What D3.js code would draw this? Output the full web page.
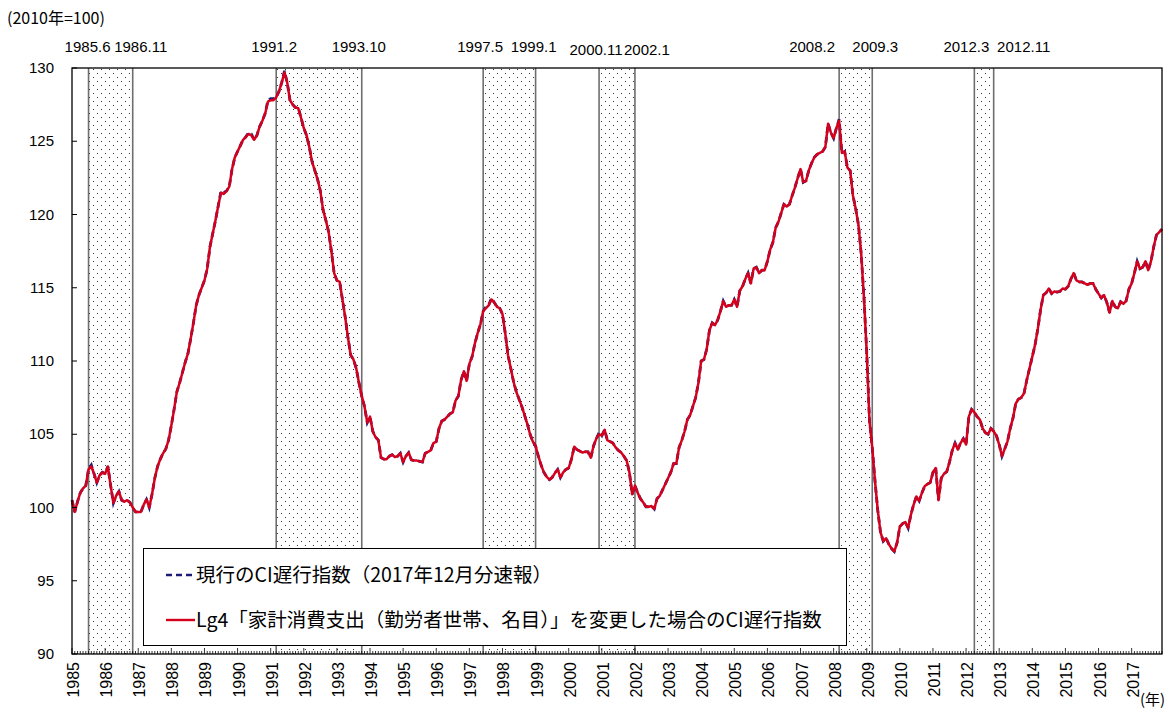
<!DOCTYPE html>
<html>
<head>
<meta charset="utf-8">
<script src="https://cdn.jsdelivr.net/npm/d3@7/dist/d3.min.js"></script>
<style>
body { margin: 0; background: #fff; }
svg text { font-family: "Liberation Sans", Arial, sans-serif; fill: #000; }
svg text.jp { font-family: "Noto Sans CJK JP", "Noto Sans", sans-serif; }
</style>
</head>
<body>
<svg id="chart" width="1170" height="708"></svg>
<script>
// data: monthly lagging CI, Jan 1985 - Dec 2017 (2010=100)
var startYear = 1985;
var yearLabels = d3.range(1985, 2018);
var yTicks = [90, 95, 100, 105, 110, 115, 120, 125, 130];
var peaks = ["1985.6", "1991.2", "1997.5", "2000.11", "2008.2", "2012.3"];
var troughs = ["1986.11", "1993.10", "1999.1", "2002.1", "2009.3", "2012.11"];

// Lg4 changed version (red)
var lagCIrevised = [
  100.5, 99.7, 100.4, 101.0, 101.3, 101.5, 102.6, 102.8, 102.3, 101.7, 102.2, 102.4, // 1985
  102.3, 102.8, 101.5, 100.3, 100.8, 101.1, 100.5, 100.4, 100.5, 100.35, 100.0, 99.7, // 1986
  99.7, 99.7, 100.2, 100.55, 100.0, 100.9, 102.0, 102.8, 103.3, 103.7, 104.0, 104.6, // 1987
  105.6, 106.7, 107.9, 108.5, 109.2, 109.9, 110.5, 111.5, 112.6, 113.8, 114.5, 115.0, // 1988
  115.5, 116.3, 117.8, 118.7, 119.6, 120.6, 121.5, 121.4, 121.6, 121.9, 123.1, 123.9, // 1989
  124.3, 124.7, 125.1, 125.3, 125.5, 125.4, 125.1, 125.4, 126.0, 126.4, 126.9, 127.7, // 1990
  127.8, 127.8, 128.0, 128.4, 129.0, 129.7, 129.0, 127.8, 127.5, 127.3, 127.25, 126.6, // 1991
  125.9, 125.4, 124.6, 123.6, 123.0, 122.4, 121.6, 120.3, 119.6, 118.8, 117.5, 116.0, // 1992
  115.5, 115.4, 114.2, 113.0, 111.6, 110.4, 110.1, 109.5, 108.5, 107.6, 106.9, 105.8, // 1993
  106.2, 105.2, 104.8, 104.6, 103.4, 103.3, 103.3, 103.5, 103.6, 103.45, 103.5, 103.7, // 1994
  103.1, 103.5, 103.75, 103.25, 103.2, 103.2, 103.15, 103.1, 103.7, 103.8, 103.9, 104.4, // 1995
  104.5, 105.4, 105.9, 106.0, 106.2, 106.4, 106.5, 107.3, 107.6, 108.7, 109.3, 108.65, // 1996
  109.8, 110.3, 111.2, 111.9, 112.5, 113.4, 113.6, 113.8, 114.2, 114.0, 113.7, 113.6, // 1997
  113.2, 111.9, 110.4, 109.5, 108.6, 107.9, 107.4, 106.9, 106.3, 105.7, 105.0, 104.5, // 1998
  104.2, 103.5, 102.9, 102.4, 102.1, 101.9, 102.05, 102.35, 102.6, 102.05, 102.4, 102.6, // 1999
  102.7, 103.3, 104.15, 103.95, 103.85, 103.75, 103.8, 103.8, 103.4, 104.2, 104.7, 105.0, // 2000
  104.9, 105.3, 104.6, 104.5, 104.4, 104.1, 103.9, 103.75, 103.5, 103.2, 102.4, 100.9, // 2001
  101.5, 101.0, 100.6, 100.35, 100.05, 100.05, 100.1, 99.9, 100.6, 100.8, 101.2, 101.6, // 2002
  102.0, 102.4, 103.0, 103.0, 104.1, 104.6, 105.2, 106.0, 106.3, 106.9, 107.5, 108.5, // 2003
  110.0, 110.1, 110.8, 112.1, 112.6, 112.45, 112.8, 113.4, 114.1, 113.7, 113.8, 113.8, // 2004
  114.2, 113.7, 114.8, 115.1, 115.6, 116.0, 115.3, 116.3, 116.4, 116.0, 116.2, 116.2, // 2005
  116.8, 117.6, 118.1, 119.1, 119.5, 120.1, 120.7, 120.55, 120.7, 121.3, 121.85, 122.5, // 2006
  123.1, 122.2, 122.3, 123.0, 123.5, 123.9, 124.1, 124.2, 124.3, 124.6, 126.2, 125.6, // 2007
  125.2, 125.9, 126.4, 124.2, 124.3, 123.2, 123.0, 121.3, 120.4, 119.3, 117.3, 114.3, // 2008
  110.6, 105.9, 104.1, 101.8, 99.8, 98.3, 97.7, 97.9, 97.5, 97.2, 97.0, 97.6, // 2009
  98.7, 98.9, 99.0, 98.6, 99.5, 100.2, 100.75, 100.45, 101.0, 101.45, 101.6, 101.7, // 2010
  102.4, 102.7, 100.5, 102.0, 102.3, 102.45, 103.1, 103.9, 104.4, 103.95, 104.4, 104.7, // 2011
  104.3, 106.2, 106.7, 106.5, 106.2, 106.0, 105.4, 105.1, 105.0, 105.4, 105.2, 104.9, // 2012
  104.3, 103.5, 104.0, 104.5, 105.4, 106.1, 107.1, 107.4, 107.5, 107.8, 108.7, 109.5, // 2013
  110.3, 111.1, 112.2, 113.5, 114.5, 114.65, 114.95, 114.6, 114.75, 114.7, 114.75, 114.95, // 2014
  114.9, 115.1, 115.6, 116.0, 115.5, 115.4, 115.4, 115.3, 115.2, 115.3, 115.3, 114.9, // 2015
  114.6, 114.3, 114.5, 114.0, 113.3, 114.1, 113.7, 113.6, 114.05, 113.9, 114.1, 114.9, // 2016
  115.3, 116.0, 116.8, 116.3, 116.4, 116.8, 116.2, 116.8, 117.8, 118.6, 118.8, 119.0  // 2017
];

// current CI lagging index, Dec 2017 preliminary (blue dashed)
var lagCIcurrent = [
  100.5, 99.7, 100.4, 101.0, 101.3, 101.5, 102.6, 102.9, 102.3, 101.7, 102.2, 102.4, // 1985
  102.3, 102.8, 101.5, 100.3, 100.8, 101.1, 100.5, 100.4, 100.5, 100.35, 100.0, 99.7, // 1986
  99.7, 99.7, 100.2, 100.55, 100.0, 100.9, 102.0, 102.8, 103.3, 103.7, 104.0, 104.6, // 1987
  105.6, 106.7, 107.9, 108.5, 109.2, 109.9, 110.5, 111.5, 112.6, 113.8, 114.5, 115.0, // 1988
  115.5, 116.3, 117.8, 118.7, 119.6, 120.6, 121.6, 121.5, 121.6, 121.9, 123.1, 123.9, // 1989
  124.3, 124.7, 125.1, 125.3, 125.6, 125.5, 125.1, 125.4, 126.0, 126.4, 126.9, 127.8, // 1990
  127.9, 127.9, 128.0, 128.4, 129.0, 129.8, 129.0, 127.8, 127.5, 127.3, 127.3, 126.6, // 1991
  125.9, 125.4, 124.6, 123.6, 123.0, 122.4, 121.6, 120.3, 119.6, 118.8, 117.5, 116.0, // 1992
  115.5, 115.4, 114.2, 113.0, 111.6, 110.4, 110.1, 109.5, 108.5, 107.6, 106.9, 105.8, // 1993
  106.2, 105.2, 104.8, 104.6, 103.4, 103.3, 103.3, 103.5, 103.6, 103.45, 103.5, 103.7, // 1994
  103.1, 103.5, 103.75, 103.25, 103.2, 103.2, 103.15, 103.1, 103.7, 103.8, 103.9, 104.4, // 1995
  104.5, 105.4, 105.9, 106.0, 106.2, 106.4, 106.5, 107.3, 107.6, 108.7, 109.3, 108.65, // 1996
  109.8, 110.3, 111.2, 111.9, 112.5, 113.4, 113.7, 113.8, 114.3, 114.0, 113.7, 113.6, // 1997
  113.2, 111.9, 110.4, 109.5, 108.6, 107.9, 107.4, 106.9, 106.3, 105.7, 105.0, 104.5, // 1998
  104.2, 103.5, 102.9, 102.4, 102.1, 101.9, 102.05, 102.35, 102.6, 102.05, 102.4, 102.6, // 1999
  102.7, 103.3, 104.15, 103.95, 103.85, 103.75, 103.8, 103.8, 103.4, 104.2, 104.7, 105.1, // 2000
  104.9, 105.3, 104.6, 104.5, 104.4, 104.1, 103.9, 103.75, 103.5, 103.2, 102.4, 100.9, // 2001
  101.5, 101.0, 100.6, 100.35, 100.05, 100.05, 100.1, 99.9, 100.6, 100.8, 101.2, 101.6, // 2002
  102.0, 102.4, 103.0, 103.0, 104.1, 104.6, 105.2, 106.0, 106.3, 106.9, 107.5, 108.5, // 2003
  110.0, 110.1, 110.8, 112.1, 112.6, 112.45, 112.8, 113.4, 114.1, 113.7, 113.8, 113.8, // 2004
  114.2, 113.7, 114.8, 115.1, 115.6, 116.0, 115.3, 116.3, 116.4, 116.0, 116.2, 116.2, // 2005
  116.8, 117.6, 118.1, 119.1, 119.5, 120.1, 120.7, 120.55, 120.7, 121.3, 121.85, 122.5, // 2006
  123.1, 122.2, 122.3, 123.0, 123.5, 123.9, 124.1, 124.2, 124.3, 124.6, 126.2, 125.6, // 2007
  125.2, 125.9, 126.5, 124.2, 124.3, 123.2, 123.0, 121.3, 120.4, 119.3, 117.3, 114.3, // 2008
  110.6, 105.9, 104.1, 101.8, 99.8, 98.3, 97.7, 97.9, 97.5, 97.2, 97.0, 97.6, // 2009
  98.7, 98.9, 99.0, 98.6, 99.5, 100.2, 100.75, 100.45, 101.0, 101.45, 101.6, 101.7, // 2010
  102.4, 102.7, 100.5, 102.0, 102.3, 102.45, 103.1, 103.9, 104.4, 103.95, 104.4, 104.7, // 2011
  104.3, 106.2, 106.7, 106.5, 106.2, 106.0, 105.4, 105.1, 105.0, 105.4, 105.2, 104.9, // 2012
  104.3, 103.5, 104.0, 104.5, 105.4, 106.1, 107.1, 107.4, 107.5, 107.8, 108.7, 109.5, // 2013
  110.3, 111.1, 112.2, 113.5, 114.5, 114.65, 114.95, 114.6, 114.75, 114.7, 114.75, 114.95, // 2014
  114.9, 115.1, 115.6, 116.0, 115.5, 115.4, 115.4, 115.3, 115.2, 115.3, 115.3, 114.9, // 2015
  114.6, 114.3, 114.5, 114.0, 113.3, 114.1, 113.7, 113.6, 114.05, 113.9, 114.1, 114.9, // 2016
  115.3, 116.0, 116.8, 116.3, 116.4, 116.8, 116.2, 116.8, 117.8, 118.6, 118.8, 119.0  // 2017
];

// small label nudges so the turning-point labels do not collide
var peakLabelDx = [-1, -2, -3, -3, -27, -8];
var troughLabelDx = [8, -3, -2, 12, 3, 30];
var peakLabelDy = [0, 0, 0, 3, 0, 0];
var troughLabelDy = [0, 0, 0, 3, 0, 0];

function monthIndex(s) {
	var p = s.split(".");
	return (+p[0] - startYear) * 12 + (+p[1] - 1);
}

var svg = d3.select("#chart");
var plotLeft = 72, plotRight = 1162, plotTop = 68, plotBottom = 654;
var nMonths = lagCIrevised.length;

var x = d3.scaleLinear().domain([0, nMonths - 1]).range([plotLeft, plotRight]);
var y = d3.scaleLinear().domain([90, 130]).range([plotBottom, plotTop]);

// dotted fill for recession periods
var defs = svg.append("defs");
var pat = defs.append("pattern")
	.attr("id", "dots")
	.attr("patternUnits", "userSpaceOnUse")
	.attr("width", 8).attr("height", 8);
pat.append("rect").attr("x", 1).attr("y", 1).attr("width", 1).attr("height", 1).attr("fill", "#333");
pat.append("rect").attr("x", 5).attr("y", 5).attr("width", 1).attr("height", 1).attr("fill", "#333");

var periods = peaks.map(function(p, i) {
	return { start: monthIndex(p) + 1, end: monthIndex(troughs[i]), peak: p, trough: troughs[i] };
});

var shade = svg.append("g");
shade.selectAll("rect").data(periods).enter().append("rect")
	.attr("x", function(d) { return x(d.start); })
	.attr("y", plotTop)
	.attr("width", function(d) { return x(d.end) - x(d.start); })
	.attr("height", plotBottom - plotTop)
	.attr("fill", "url(#dots)");

var edges = [];
periods.forEach(function(d) { edges.push(d.start); edges.push(d.end); });
shade.selectAll("line").data(edges).enter().append("line")
	.attr("x1", function(d) { return x(d); })
	.attr("x2", function(d) { return x(d); })
	.attr("y1", plotTop).attr("y2", plotBottom)
	.attr("stroke", "#6e6e6e")
	.attr("stroke-width", 1.6);

// series
var line = d3.line()
	.x(function(d, i) { return x(i); })
	.y(function(d) { return y(d); });

svg.append("path")
	.datum(lagCIcurrent)
	.attr("d", line)
	.attr("fill", "none")
	.attr("stroke", "#1c1c78")
	.attr("stroke-width", 2.8)
	.attr("stroke-dasharray", "6,4");

svg.append("path")
	.datum(lagCIrevised)
	.attr("d", line)
	.attr("fill", "none")
	.attr("stroke", "#d4001c")
	.attr("stroke-width", 2.5)
	.attr("stroke-linejoin", "round");

// legend
var legend = svg.append("g");
legend.append("rect")
	.attr("x", 143.5).attr("y", 548.5)
	.attr("width", 703).attr("height", 97)
	.attr("fill", "#fff")
	.attr("stroke", "#000")
	.attr("stroke-width", 1);
legend.append("line")
	.attr("x1", 166).attr("x2", 194).attr("y1", 575).attr("y2", 575)
	.attr("stroke", "#1c1c78").attr("stroke-width", 2.6)
	.attr("stroke-dasharray", "6,4");
legend.append("text").attr("class", "jp")
	.attr("x", 196).attr("y", 582)
	.style("font-size", "19.5px")
	.text("現行のCI遅行指数（2017年12月分速報）");
legend.append("line")
	.attr("x1", 166).attr("x2", 195).attr("y1", 620).attr("y2", 620)
	.attr("stroke", "#d4001c").attr("stroke-width", 2.4);
legend.append("text").attr("class", "jp")
	.attr("x", 196).attr("y", 627)
	.style("font-size", "19.5px")
	.text("Lg4「家計消費支出（勤労者世帯、名目）」を変更した場合のCI遅行指数");

// frame
svg.append("rect")
	.attr("x", plotLeft).attr("y", plotTop)
	.attr("width", plotRight - plotLeft).attr("height", plotBottom - plotTop)
	.attr("fill", "none")
	.attr("stroke", "#000")
	.attr("stroke-width", 1.3);

// y axis ticks + labels
svg.append("g").selectAll("line").data(yTicks).enter().append("line")
	.attr("x1", plotLeft).attr("x2", plotLeft + 5)
	.attr("y1", function(d) { return y(d); })
	.attr("y2", function(d) { return y(d); })
	.attr("stroke", "#000");
svg.append("g").selectAll("text").data(yTicks).enter().append("text")
	.attr("x", 54)
	.attr("y", function(d) { return y(d) + 5; })
	.attr("text-anchor", "end")
	.style("font-size", "15px")
	.text(function(d) { return d; });

// x axis: monthly ticks, longer at january
svg.append("g").selectAll("line").data(d3.range(nMonths)).enter().append("line")
	.attr("x1", function(d) { return x(d); })
	.attr("x2", function(d) { return x(d); })
	.attr("y1", plotBottom)
	.attr("y2", function(d) { return d % 12 == 0 ? plotBottom - 6 : plotBottom - 3; })
	.attr("stroke", "#000")
	.attr("stroke-width", 0.8);

svg.append("g").selectAll("text").data(yearLabels).enter().append("text")
	.attr("transform", function(d) {
		return "translate(" + (x((d - startYear) * 12) + 7) + ",662) rotate(-90)";
	})
	.attr("text-anchor", "end")
	.style("font-size", "16px")
	.text(function(d) { return d; });

// turning point labels
svg.append("g").selectAll("text").data(periods).enter().append("text")
	.attr("x", function(d, i) { return x(d.start) + peakLabelDx[i]; })
	.attr("y", function(d, i) { return 52 + peakLabelDy[i]; })
	.attr("text-anchor", "middle")
	.style("font-size", "15px")
	.text(function(d) { return d.peak; });
svg.append("g").selectAll("text").data(periods).enter().append("text")
	.attr("x", function(d, i) { return x(d.end) + troughLabelDx[i]; })
	.attr("y", function(d, i) { return 52 + troughLabelDy[i]; })
	.attr("text-anchor", "middle")
	.style("font-size", "15px")
	.text(function(d) { return d.trough; });

svg.append("text").attr("class", "jp")
	.attr("x", 7).attr("y", 24)
	.style("font-size", "16px")
	.text("(2010年=100)");

svg.append("text").attr("class", "jp")
	.attr("x", 1140).attr("y", 705)
	.style("font-size", "15px")
	.text("(年)");
</script>
</body>
</html>
